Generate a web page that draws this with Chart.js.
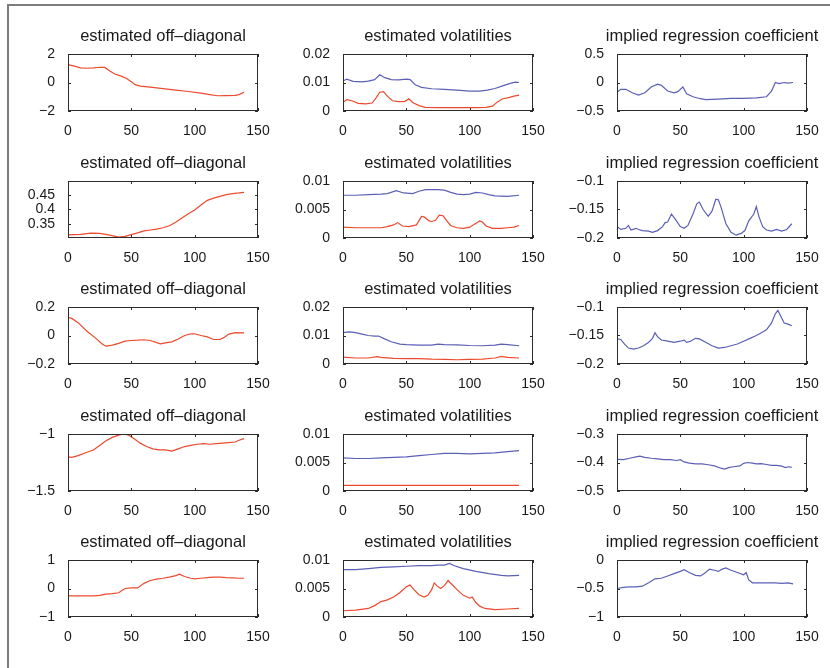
<!DOCTYPE html>
<html>
<head>
<meta charset="utf-8">
<script src="https://cdn.jsdelivr.net/npm/chart.js@4.4.0/dist/chart.umd.min.js"></script>
<style>
  body { margin: 0; background: #fff; width: 830px; height: 668px; overflow: hidden; position: relative; }
  #frame { position: absolute; left: 7px; top: 4px; width: 900px; height: 800px;
           border-left: 2px solid #7c7c7c; border-top: 2px solid #7c7c7c; }
  canvas { position: absolute; }
</style>
</head>
<body>
<div id="frame"></div>
<div id="wrap"></div>
<script>
// x axis ticks shared by every panel
var xTicks = [0, 50, 100, 150];

// row 1
var off1 = [[0,1.25],[5,1.15],[10,1.03],[15,1.0],[20,1.02],[25,1.07],[29,1.06],[33,0.8],[37,0.6],[42,0.45],[46,0.3],[50,0.05],[53,-0.15],[57,-0.25],[65,-0.33],[75,-0.43],[85,-0.53],[95,-0.63],[105,-0.75],[112,-0.85],[118,-0.93],[125,-0.92],[132,-0.9],[135,-0.85],[139,-0.68]];
var volA1 = [[0,0.0105],[3,0.0112],[8,0.0104],[15,0.0102],[20,0.0105],[25,0.011],[29,0.0127],[33,0.0117],[38,0.011],[44,0.0109],[50,0.0112],[53,0.011],[57,0.0092],[62,0.0083],[70,0.0078],[80,0.0076],[90,0.0073],[100,0.007],[108,0.007],[114,0.0073],[120,0.0079],[126,0.0088],[132,0.0097],[136,0.0101],[139,0.01]];
var volB1 = [[0,0.003],[3,0.004],[7,0.0036],[12,0.0027],[18,0.0025],[23,0.0028],[26,0.0045],[29,0.0066],[32,0.0068],[35,0.0052],[39,0.0036],[44,0.0033],[49,0.0034],[52,0.0043],[55,0.003],[60,0.0019],[65,0.0013],[75,0.0012],[90,0.0012],[105,0.0012],[113,0.0013],[118,0.0017],[122,0.0032],[126,0.0043],[130,0.0046],[135,0.0052],[139,0.0056]];
var reg1 = [[0,-0.17],[3,-0.12],[7,-0.12],[12,-0.18],[17,-0.22],[22,-0.18],[27,-0.08],[32,-0.03],[35,-0.05],[40,-0.15],[45,-0.18],[48,-0.16],[52,-0.08],[55,-0.2],[60,-0.25],[65,-0.28],[70,-0.3],[80,-0.29],[90,-0.28],[100,-0.28],[110,-0.27],[118,-0.25],[122,-0.15],[125,0.0],[128,-0.02],[132,0.0],[135,-0.01],[139,0.0]];

// row 2
var off2 = [[0,0.311],[10,0.313],[18,0.317],[25,0.316],[32,0.311],[40,0.303],[45,0.306],[50,0.312],[55,0.318],[60,0.325],[65,0.328],[70,0.331],[75,0.336],[80,0.343],[85,0.355],[90,0.37],[95,0.385],[100,0.398],[105,0.416],[110,0.432],[115,0.44],[120,0.446],[125,0.452],[130,0.456],[135,0.458],[139,0.46]];
var volA2 = [[0,0.0075],[10,0.0075],[20,0.0076],[30,0.0077],[35,0.0078],[42,0.0083],[48,0.0079],[55,0.0078],[60,0.0082],[65,0.0085],[75,0.0085],[80,0.0084],[85,0.008],[90,0.0077],[95,0.0076],[100,0.0077],[105,0.008],[110,0.0079],[115,0.0076],[120,0.0074],[130,0.0073],[139,0.0075]];
var volB2 = [[0,0.0019],[10,0.0018],[20,0.0018],[30,0.0018],[35,0.002],[40,0.0023],[43,0.0027],[47,0.0021],[52,0.002],[58,0.0023],[62,0.0038],[64,0.0037],[68,0.003],[70,0.0029],[73,0.0031],[76,0.004],[79,0.0039],[82,0.003],[85,0.0022],[90,0.0018],[95,0.0017],[100,0.0019],[105,0.0026],[108,0.003],[110,0.0028],[113,0.0021],[118,0.0017],[125,0.0017],[130,0.0018],[135,0.0019],[139,0.0022]];
var reg2 = [[0,-0.18],[3,-0.185],[7,-0.183],[9,-0.178],[11,-0.186],[15,-0.183],[17,-0.185],[20,-0.187],[25,-0.188],[28,-0.19],[32,-0.187],[36,-0.18],[38,-0.173],[40,-0.172],[43,-0.158],[46,-0.167],[50,-0.18],[53,-0.183],[56,-0.178],[60,-0.158],[63,-0.14],[65,-0.137],[68,-0.15],[72,-0.162],[75,-0.153],[78,-0.132],[80,-0.133],[82,-0.145],[86,-0.175],[90,-0.19],[94,-0.195],[98,-0.192],[101,-0.187],[104,-0.17],[108,-0.158],[110,-0.145],[112,-0.162],[115,-0.18],[118,-0.186],[122,-0.188],[126,-0.185],[130,-0.188],[134,-0.185],[138,-0.175]];

// row 3
var off3 = [[0,0.128],[3,0.12],[8,0.09],[15,0.03],[22,-0.02],[27,-0.06],[30,-0.075],[35,-0.068],[40,-0.055],[45,-0.04],[50,-0.035],[55,-0.033],[60,-0.03],[65,-0.035],[70,-0.05],[73,-0.058],[78,-0.05],[82,-0.045],[87,-0.025],[92,0.0],[97,0.012],[100,0.012],[105,0.0],[110,-0.01],[115,-0.028],[120,-0.028],[123,-0.015],[127,0.01],[132,0.02],[139,0.018]];
var volA3 = [[0,0.011],[5,0.0113],[10,0.011],[15,0.0105],[20,0.01],[25,0.0098],[28,0.0098],[32,0.009],[38,0.0078],[45,0.007],[50,0.0068],[60,0.0066],[70,0.0066],[75,0.007],[80,0.0068],[90,0.0067],[100,0.0065],[110,0.0064],[120,0.0066],[125,0.007],[130,0.0068],[139,0.0064]];
var volB3 = [[0,0.0024],[10,0.0021],[20,0.0021],[27,0.0026],[30,0.0023],[40,0.002],[50,0.0019],[60,0.0019],[70,0.0017],[80,0.0016],[90,0.0015],[100,0.0016],[110,0.0017],[120,0.0021],[125,0.0027],[130,0.0023],[139,0.0021]];
var reg3 = [[0,-0.156],[3,-0.157],[6,-0.165],[9,-0.172],[13,-0.174],[17,-0.172],[21,-0.168],[25,-0.162],[28,-0.155],[30,-0.145],[32,-0.152],[35,-0.158],[40,-0.16],[45,-0.162],[50,-0.16],[53,-0.158],[55,-0.162],[58,-0.16],[62,-0.155],[65,-0.156],[70,-0.162],[75,-0.168],[80,-0.172],[85,-0.171],[90,-0.168],[95,-0.165],[100,-0.16],[105,-0.155],[110,-0.15],[115,-0.144],[118,-0.14],[122,-0.128],[125,-0.112],[127,-0.106],[129,-0.115],[132,-0.128],[135,-0.13],[138,-0.133]];

// row 4
var off4 = [[0,-1.2],[3,-1.205],[8,-1.19],[15,-1.16],[20,-1.14],[25,-1.1],[30,-1.06],[35,-1.03],[40,-1.01],[44,-1.0],[48,-1.01],[52,-1.04],[57,-1.08],[62,-1.11],[67,-1.13],[72,-1.14],[77,-1.14],[82,-1.15],[87,-1.13],[92,-1.11],[97,-1.1],[102,-1.09],[107,-1.085],[112,-1.09],[117,-1.085],[122,-1.08],[127,-1.075],[132,-1.07],[135,-1.055],[139,-1.04]];
var volA4 = [[0,0.0058],[10,0.0057],[20,0.0057],[30,0.0058],[40,0.0059],[50,0.006],[60,0.0062],[70,0.0064],[80,0.0066],[90,0.0066],[100,0.0065],[110,0.0066],[120,0.0067],[130,0.0069],[139,0.0071]];
var volB4 = [[0,0.001],[35,0.001],[70,0.00098],[105,0.00099],[139,0.001]];
var reg4 = [[0,-0.389],[5,-0.39],[10,-0.385],[15,-0.38],[18,-0.378],[22,-0.382],[27,-0.385],[32,-0.387],[37,-0.39],[42,-0.39],[47,-0.393],[50,-0.39],[53,-0.398],[57,-0.402],[62,-0.405],[67,-0.405],[72,-0.408],[77,-0.412],[82,-0.42],[85,-0.423],[88,-0.418],[92,-0.415],[97,-0.412],[100,-0.403],[103,-0.4],[107,-0.402],[110,-0.405],[114,-0.404],[118,-0.407],[122,-0.41],[126,-0.41],[130,-0.413],[133,-0.418],[135,-0.415],[138,-0.417]];

// row 5
var off5 = [[0,-0.26],[10,-0.26],[20,-0.26],[25,-0.24],[30,-0.2],[35,-0.18],[40,-0.15],[45,0.0],[50,0.02],[55,0.02],[60,0.18],[65,0.28],[70,0.33],[75,0.36],[80,0.4],[85,0.45],[88,0.5],[92,0.42],[97,0.36],[100,0.34],[105,0.36],[110,0.38],[115,0.4],[120,0.4],[125,0.38],[130,0.37],[135,0.36],[139,0.36]];
var volA5 = [[0,0.0083],[10,0.0083],[20,0.0085],[30,0.0087],[40,0.0088],[50,0.0089],[60,0.009],[70,0.009],[75,0.0091],[80,0.0091],[84,0.0094],[88,0.009],[95,0.0085],[105,0.008],[115,0.0076],[125,0.0073],[130,0.0072],[139,0.0073]];
var volB5 = [[0,0.0011],[10,0.0012],[20,0.0015],[25,0.002],[30,0.0027],[35,0.003],[40,0.0035],[45,0.0043],[50,0.0053],[53,0.0056],[56,0.0048],[60,0.0039],[64,0.0035],[67,0.0038],[70,0.0048],[72,0.006],[74,0.0055],[77,0.005],[80,0.0055],[83,0.0064],[86,0.0057],[90,0.0048],[95,0.0038],[100,0.0033],[102,0.0035],[105,0.0025],[108,0.0019],[112,0.0015],[120,0.0013],[130,0.0014],[139,0.0015]];
var reg5 = [[0,-0.5],[5,-0.48],[10,-0.47],[15,-0.47],[20,-0.46],[25,-0.4],[30,-0.33],[35,-0.32],[40,-0.28],[45,-0.24],[50,-0.2],[53,-0.17],[57,-0.22],[62,-0.27],[66,-0.28],[70,-0.22],[73,-0.16],[77,-0.18],[80,-0.2],[83,-0.16],[86,-0.14],[90,-0.18],[95,-0.22],[100,-0.26],[102,-0.22],[104,-0.35],[107,-0.4],[112,-0.4],[118,-0.4],[125,-0.4],[130,-0.41],[135,-0.4],[139,-0.42]];

// y tick labels per row/col
var offTicks = [[-2,0,2],[0.35,0.4,0.45],[-0.2,0,0.2],[-1.5,-1],[-1,0,1]];
var volTicks = [[0,0.01,0.02],[0,0.005,0.01],[0,0.01,0.02],[0,0.005,0.01],[0,0.005,0.01]];
var regTicks = [[-0.5,0,0.5],[-0.2,-0.15,-0.1],[-0.2,-0.15,-0.1],[-0.5,-0.4,-0.3],[-1,-0.5,0]];
var offRange = [[-2,2],[0.3,0.5],[-0.2,0.2],[-1.5,-1],[-1,1]];
var volRange = [[0,0.02],[0,0.01],[0,0.02],[0,0.01],[0,0.01]];
var regRange = [[-0.5,0.5],[-0.2,-0.1],[-0.2,-0.1],[-0.5,-0.3],[-1,0]];

var RED = '#ec4a2e';
var BLUE = '#5b5fb5';
var FONT = 'Liberation Sans';

var colLeft = [68, 343, 617];
var rowTop = [54, 180.5, 307, 433.5, 560];
var boxW = 190, boxH = 57;
var padL = 70, padT = 32, padR = 20, padB = 30;

function toXY(arr) {
    return arr.map(function (p) { return { x: p[0], y: p[1] }; });
}

function fmt(v) {
    var s = String(parseFloat(v.toFixed(4)));
    return s.replace('-', '\u2212');
}

// box, inward ticks and title, matlab style
var boxPlugin = {
    id: 'box',
    afterDatasetsDraw: function (chart) {
        var a = chart.chartArea, c = chart.ctx;
        var xs = chart.scales.x, ys = chart.scales.y;
        c.save();
        c.strokeStyle = '#2b2b2b';
        c.lineWidth = 1;
        c.strokeRect(Math.round(a.left) + 0.5, Math.round(a.top) + 0.5,
                     Math.round(a.right - a.left) - 1, Math.round(a.bottom - a.top) - 1);
        c.beginPath();
        xs.ticks.forEach(function (t) {
            var px = Math.round(xs.getPixelForValue(t.value)) + 0.5;
            c.moveTo(px, a.bottom); c.lineTo(px, a.bottom - 3);
            c.moveTo(px, a.top); c.lineTo(px, a.top + 3);
        });
        ys.ticks.forEach(function (t) {
            var py = Math.round(ys.getPixelForValue(t.value)) + 0.5;
            c.moveTo(a.left, py); c.lineTo(a.left + 3, py);
            c.moveTo(a.right, py); c.lineTo(a.right - 3, py);
        });
        c.stroke();
        c.fillStyle = '#1a1a1a';
        c.font = '16.5px "' + FONT + '"';
        c.textAlign = 'center';
        c.textBaseline = 'middle';
        c.fillText(chart.options.plugins.box.title, (a.left + a.right) / 2, a.top - 18);
        c.restore();
    }
};

function makePanel(row, col, title, series, range, ticks) {
    var cv = document.createElement('canvas');
    var w = padL + boxW + padR, h = padT + boxH + padB;
    cv.width = w; cv.height = h;
    cv.style.left = (colLeft[col] - padL) + 'px';
    cv.style.top = (rowTop[row] - padT) + 'px';
    cv.style.width = w + 'px'; cv.style.height = h + 'px';
    document.getElementById('wrap').appendChild(cv);

    new Chart(cv.getContext('2d'), {
        type: 'line',
        data: {
            datasets: series.map(function (s) {
                return { data: toXY(s.data), borderColor: s.color, borderWidth: 1.2,
                         pointRadius: 0, tension: 0, fill: false };
            })
        },
        options: {
            responsive: false,
            animation: false,
            layout: { padding: { top: padT, right: padR, left: 0, bottom: 0 } },
            plugins: { legend: { display: false }, tooltip: { enabled: false },
                       box: { title: title } },
            scales: {
                x: {
                    type: 'linear', min: 0, max: 150,
                    grid: { display: false }, border: { display: false },
                    afterBuildTicks: function (s) { s.ticks = xTicks.map(function (v) { return { value: v }; }); },
                    afterFit: function (s) { s.height = padB; },
                    ticks: { color: '#1a1a1a', font: { family: FONT, size: 14 }, padding: 4,
                             maxRotation: 0, autoSkip: false, callback: function (v) { return fmt(v); } }
                },
                y: {
                    min: range[0], max: range[1],
                    grid: { display: false }, border: { display: false },
                    afterBuildTicks: function (s) { s.ticks = ticks.map(function (v) { return { value: v }; }); },
                    afterFit: function (s) { s.width = padL; },
                    ticks: { color: '#1a1a1a', font: { family: FONT, size: 14 }, padding: 5,
                             autoSkip: false, callback: function (v) { return fmt(v); } }
                }
            }
        },
        plugins: [boxPlugin]
    });
}

var offData = [off1, off2, off3, off4, off5];
var volA = [volA1, volA2, volA3, volA4, volA5];
var volB = [volB1, volB2, volB3, volB4, volB5];
var regData = [reg1, reg2, reg3, reg4, reg5];

for (var r = 0; r < 5; r++) {
    makePanel(r, 0, 'estimated off\u2013diagonal', [{ data: offData[r], color: RED }], offRange[r], offTicks[r]);
    makePanel(r, 1, 'estimated volatilities', [{ data: volA[r], color: BLUE }, { data: volB[r], color: RED }], volRange[r], volTicks[r]);
    makePanel(r, 2, 'implied regression coefficient', [{ data: regData[r], color: BLUE }], regRange[r], regTicks[r]);
}
</script>
</body>
</html>
